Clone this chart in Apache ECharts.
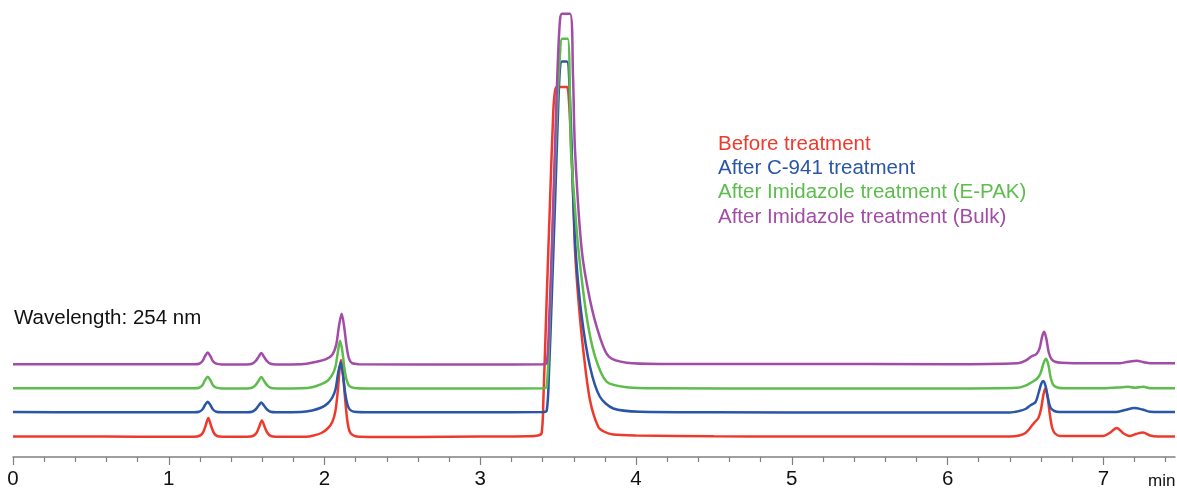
<!DOCTYPE html>
<html>
<head>
<meta charset="utf-8">
<script src="https://cdn.jsdelivr.net/npm/echarts@6/dist/echarts.min.js"></script>
<style>
html,body{margin:0;padding:0;background:#fff;}
#chart{width:1177px;height:489px;}
</style>
</head>
<body>
<div id="chart"></div>
<script>
// ---- data (time in min, signal in arbitrary detector units above each trace's own baseline) ----
const seriesNames = ["Before treatment", "After C-941 treatment", "After Imidazole treatment (E-PAK)", "After Imidazole treatment (Bulk)"];

const redTime = [0,0.4,0.8,1.16,1.195,1.218,1.236,1.254,1.272,1.29,1.31,1.345,1.505,1.54,1.563,1.58,1.598,1.616,1.634,1.655,1.69,1.88,1.93,1.98,2.02,2.05,2.07,2.085,2.097,2.106,2.116,2.13,2.145,2.16,2.18,2.22,2.6,3.0,3.3,3.37,3.394,3.405,3.426,3.448,3.469,3.48,3.492,3.555,3.565,3.578,3.597,3.608,3.63,3.661,3.704,3.758,3.8,3.854,4.0,4.5,5.0,5.5,6.0,6.4,6.46,6.5,6.535,6.56,6.583,6.6,6.615,6.628,6.642,6.657,6.672,6.69,6.72,6.85,7.0,7.04,7.086,7.13,7.17,7.21,7.255,7.3,7.35,7.46];
const redSignal = [0.5,0.5,0.3,0.3,1,4,11,19,11,4,1,0.3,0.3,1,4,10,16.5,10,4,1,0.3,0.3,1.5,4,8.5,15,26,46,68,77,68,42,18,6,2,0.3,0,0.5,0.8,1.5,4,37,137,237,327,346,350,350,345,310,240,187,137,87,37,10,5,2.5,1.5,0.8,0.5,0.4,0.4,0.5,1.5,4,10,15,19,28,42,49,40,22,9,3.5,1,1,1,4,9,3.5,1,3,4.5,1.5,0.5,0.5];

const blueTime = [0,0.5,1.0,1.16,1.195,1.216,1.233,1.25,1.267,1.284,1.305,1.34,1.5,1.535,1.557,1.577,1.594,1.611,1.631,1.653,1.69,1.85,1.92,1.98,2.02,2.05,2.07,2.088,2.104,2.118,2.132,2.147,2.162,2.19,2.3,3.0,3.4,3.426,3.441,3.46,3.48,3.499,3.512,3.525,3.556,3.576,3.597,3.615,3.651,3.704,3.767,3.854,4.025,4.5,5.5,6.4,6.46,6.5,6.535,6.565,6.585,6.602,6.615,6.63,6.645,6.66,6.685,6.72,7.0,7.08,7.14,7.2,7.25,7.3,7.46];
const blueSignal = [0.5,0.3,0.3,0.3,0.8,3,7.5,10.7,7.5,3,0.8,0.3,0.3,0.8,3,7,10,7,3,0.8,0.3,0.5,2,5,9,15,23,40,50,38,20,8,3,0.8,0.3,0.3,0.5,1.5,40,120,210,300,345,351,351,312,212,155,96,46,16,4,0.8,0.3,0,0,1.5,3.5,7.5,10.5,20,29,31.5,26,14,5,1.5,0.5,0.5,0.5,2.5,4.5,3,0.8,0.5];

const greenTime = [0,1.16,1.195,1.216,1.233,1.25,1.267,1.284,1.305,1.34,1.5,1.535,1.557,1.577,1.594,1.611,1.631,1.653,1.69,1.85,1.92,1.98,2.02,2.05,2.07,2.085,2.1,2.114,2.128,2.143,2.16,2.19,2.3,3.0,3.4,3.426,3.448,3.469,3.493,3.512,3.525,3.561,3.582,3.608,3.63,3.683,3.737,3.811,3.94,4.154,5.0,6.0,6.45,6.5,6.545,6.575,6.598,6.617,6.632,6.647,6.662,6.68,6.71,6.75,7.0,7.12,7.16,7.2,7.257,7.3,7.46];
const greenSignal = [0.5,0.5,1,3.5,8.5,12,8.5,3.5,1,0.3,0.3,1,3.5,8,11.6,8,3.5,1,0.3,0.5,1.5,4.5,8,14,22,36,48,38,20,8,2.5,0.8,0.3,0.3,0.5,1.5,80,180,280,335,350,350,239,180,139,72,32,7,1.5,0.5,0.3,0.3,1,3,7,10,16,26,30,24,11,3.5,1,0.5,0.5,1.5,2,1,2,0.5,0.5];

const purpleTime = [0,1.16,1.195,1.216,1.233,1.25,1.267,1.284,1.305,1.34,1.5,1.535,1.557,1.577,1.594,1.611,1.631,1.653,1.69,1.85,1.885,1.95,2.01,2.05,2.075,2.092,2.11,2.126,2.142,2.157,2.177,2.22,3.0,3.4,3.426,3.441,3.46,3.48,3.497,3.512,3.525,3.576,3.595,3.608,3.651,3.704,3.767,3.826,3.94,4.154,5.0,6.0,6.45,6.5,6.54,6.57,6.59,6.607,6.62,6.634,6.65,6.668,6.69,6.73,6.9,7.1,7.16,7.214,7.26,7.3,7.46];
const purpleSignal = [0.5,0.5,1,3.5,8.5,12.3,8.5,3.5,1,0.3,0.3,1,3.5,8,11.7,8,3.5,1,0.3,0.5,1,3,5.5,10,20,38,51,38,18,6,1.5,0.5,0.3,0.5,1.5,40,120,220,300,345,351,351,290,215,115,65,28,8,2,0.8,0.7,0.5,1.5,4,8.5,10.5,16,28,33,26,12,5.5,3,2,1.4,1.4,3,4,2.5,1.4,1.4];

const majorTicks = [0,1,2,3,4,5,6,7];
const minorTicks = [0.2,0.4,0.6,0.8,1.2,1.4,1.6,1.8,2.2,2.4,2.6,2.8,3.2,3.4,3.6,3.8,4.2,4.4,4.6,4.8,5.2,5.4,5.6,5.8,6.2,6.4,6.6,6.8,7.2,7.4];

// ---- styling / layout ----
const colors = ["#ee3a2c", "#2b55a6", "#5dbd4c", "#a24ca7"];
const offsets = [20, 44.5, 68.3, 92.3]; // vertical stacking of traces
const traces = [[redTime, redSignal],[blueTime, blueSignal],[greenTime, greenSignal],[purpleTime, purpleSignal]];

const chart = echarts.init(document.getElementById('chart'), null, {renderer:'canvas'});
const font = "Liberation Sans, Arial, sans-serif";

const series = traces.map((tr, k) => ({
  name: seriesNames[k],
  type: 'line',
  xAxisIndex: 0,
  data: tr[0].map((t, i) => [t, tr[1][i] + offsets[k]]),
  showSymbol: false,
  symbol: 'none',
  smooth: 0.3,
  lineStyle: {color: colors[k], width: 2.5},
  itemStyle: {color: colors[k]},
  clip: false,
  animation: false,
  z: 2 + k
}));

chart.setOption({
  animation: false,
  backgroundColor: '#ffffff',
  grid: {left: 13, right: 2, top: 0, bottom: 32, containLabel: false, outerBoundsMode: 'none'},
  xAxis: [{
    type: 'value', min: 0, max: 7.46,
    axisLine: {show: true, lineStyle: {color: '#808080', width: 1.5}},
    axisTick: {show: true, length: 8, customValues: majorTicks, lineStyle: {color: '#808080', width: 1.2}},
    axisLabel: {show: true, customValues: majorTicks, margin: 12, color: '#111', fontSize: 20.5, fontFamily: font},
    splitLine: {show: false}
  }, {
    type: 'value', min: 0, max: 7.46, position: 'bottom',
    axisLine: {show: false},
    axisTick: {show: true, length: 5, customValues: minorTicks, lineStyle: {color: '#808080', width: 1.2}},
    axisLabel: {show: false},
    splitLine: {show: false}
  }],
  yAxis: {type: 'value', min: 0, max: 457, show: false},
  legend: {
    show: true, orient: 'vertical', left: 713, top: 132, padding: 0,
    icon: 'none', itemWidth: 0, itemHeight: 10, itemGap: 0,
    selectedMode: false,
    textStyle: {fontSize: 20.5, fontFamily: font, lineHeight: 24.3},
    data: seriesNames.map((n, k) => ({name: n, textStyle: {color: colors[k]}}))
  },
  graphic: [
    {type: 'text', left: 14, top: 308, style: {text: 'Wavelength: 254 nm', fontSize: 20.5, fontFamily: font, fill: '#111'}},
    {type: 'text', left: 1148, top: 473, style: {text: 'min', fontSize: 17, fontFamily: font, fill: '#111'}}
  ],
  series: series
});
</script>
</body>
</html>
